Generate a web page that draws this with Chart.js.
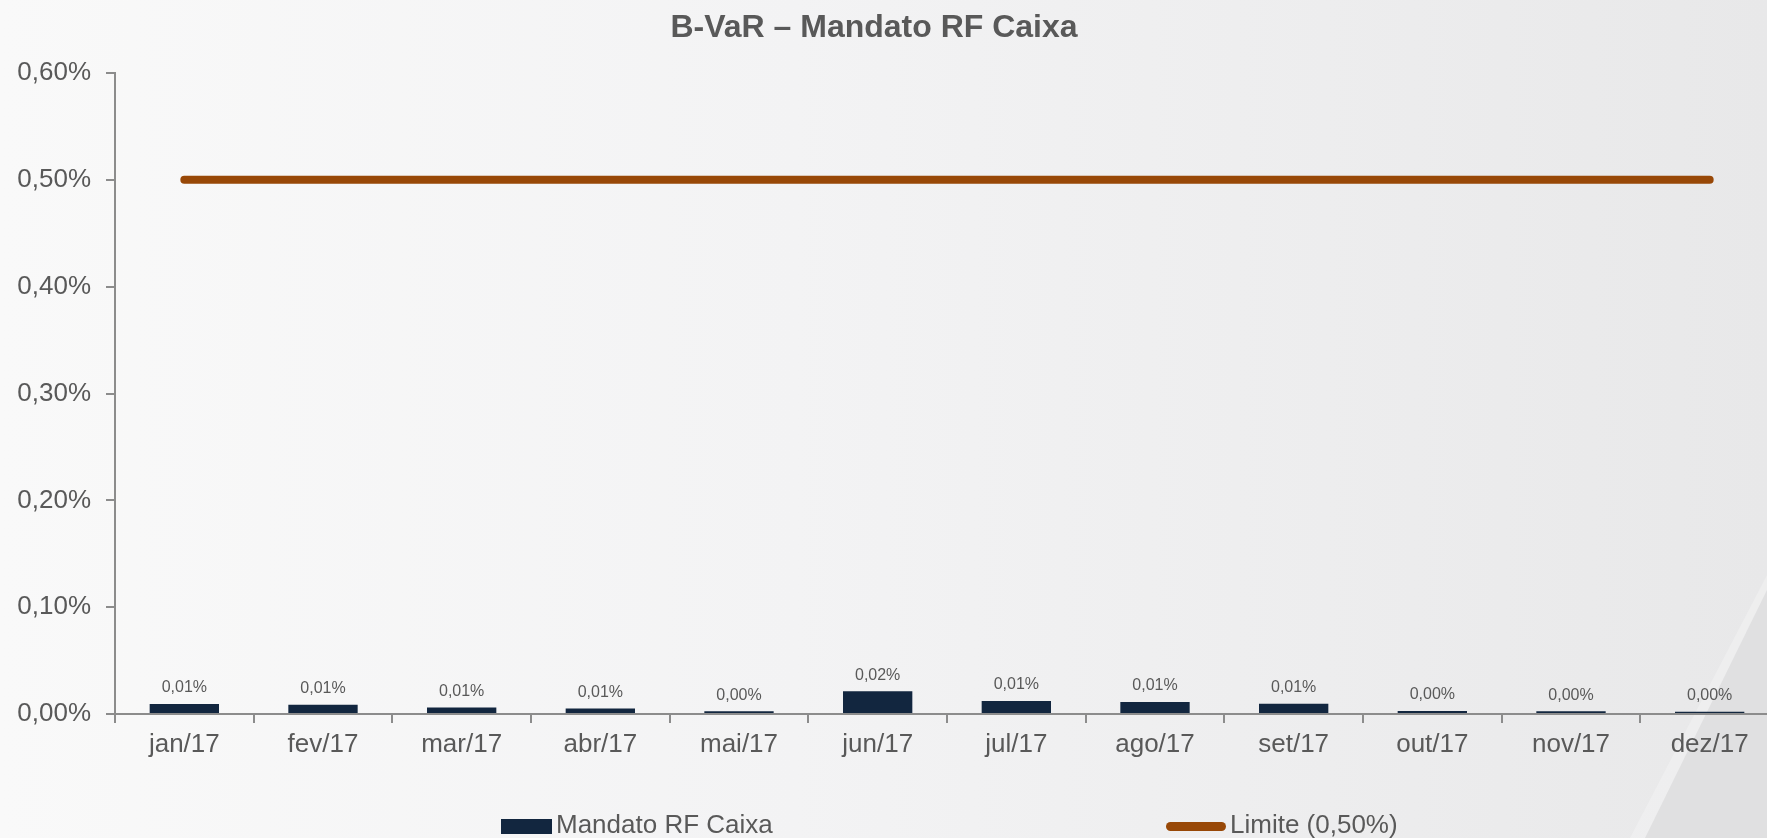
<!DOCTYPE html>
<html>
<head>
<meta charset="utf-8">
<script src="https://cdn.jsdelivr.net/npm/chart.js@4.4.1/dist/chart.umd.min.js"></script>
<style>
  html, body { margin: 0; padding: 0; }
  body {
    width: 1767px; height: 838px; overflow: hidden; position: relative;
    background: linear-gradient(90deg, #f9f9f9 0%, #f3f3f4 45%, #e8e8e9 100%);
    font-family: "Liberation Sans", Arial, sans-serif;
  }
  #swoosh {
    position: absolute; left: 0; top: 0; width: 1767px; height: 838px;
    background: #e0e0e1;
    clip-path: polygon(1767px 590px, 1767px 838px, 1645px 838px);
  }
  #swooshLight {
    position: absolute; left: 0; top: 0; width: 1767px; height: 838px;
    background: rgba(255,255,255,0.25);
    clip-path: polygon(1767px 575px, 1767px 590px, 1645px 838px, 1630px 838px);
  }
  #wrap { position: absolute; left: 0; top: 0; width: 1767px; height: 838px; overflow: hidden; }
  #title {
    position: absolute; top: 8px; left: 874px; transform: translateX(-50%);
    font-weight: bold; font-size: 32px; color: #595959; white-space: nowrap;
  }
  .leg { position: absolute; top: 809px; font-size: 26px; color: #595959; white-space: nowrap; line-height: 30px; }
  .leg span.box { display: inline-block; vertical-align: middle; margin-right: 4px; }
</style>
</head>
<body>
<div id="swoosh"></div>
<div id="swooshLight"></div>
<div id="wrap"><canvas id="grafik" width="1780" height="838"></canvas></div>
<div id="title">B-VaR – Mandato RF Caixa</div>
<div class="leg" style="left:501px"><span class="box" style="width:51px;height:15px;background:#12263f"></span>Mandato RF Caixa</div>
<div class="leg" style="left:1166px"><span class="box" style="width:60px;height:9px;border-radius:5px;background:#984807"></span>Limite (0,50%)</div>
<script>
// data
const bulan = ["jan/17", "fev/17", "mar/17", "abr/17", "mai/17", "jun/17",
  "jul/17", "ago/17", "set/17", "out/17", "nov/17", "dez/17"];
const mandatoRF = [0.0093, 0.0087, 0.0062, 0.0052, 0.0025, 0.0212,
  0.0121, 0.0112, 0.0097, 0.0028, 0.0025, 0.0022];
const limite = [0.5, 0.5, 0.5, 0.5, 0.5, 0.5, 0.5, 0.5, 0.5, 0.5, 0.5, 0.5];
const yTicks = [0, 0.1, 0.2, 0.3, 0.4, 0.5, 0.6];

const fmt = (v) => v.toFixed(2).replace(".", ",") + "%";
const abu = "#595959";

// label nilai di atas batang
const labelBatang = {
  id: "labelBatang",
  afterDatasetsDraw(chart) {
    const ctx = chart.ctx;
    const meta = chart.getDatasetMeta(0);
    ctx.save();
    ctx.font = "16px 'Liberation Sans', Arial, sans-serif";
    ctx.fillStyle = abu;
    ctx.textAlign = "center";
    ctx.textBaseline = "middle";
    meta.data.forEach((bar, i) => {
      ctx.fillText(fmt(mandatoRF[i]), bar.x, bar.y - 16);
    });
    ctx.restore();
  },
};

const ctx = document.getElementById("grafik").getContext("2d");
new Chart(ctx, {
  type: "bar",
  data: {
    labels: bulan,
    datasets: [
      {
        label: "Mandato RF Caixa",
        data: mandatoRF,
        backgroundColor: "#12263f",
        categoryPercentage: 1,
        barPercentage: 0.5,
        order: 2,
      },
      {
        type: "line",
        label: "Limite (0,50%)",
        data: limite,
        borderColor: "#984807",
        borderWidth: 8,
        borderCapStyle: "round",
        pointRadius: 0,
        fill: false,
        order: 1,
      },
    ],
  },
  options: {
    responsive: false,
    animation: false,
    devicePixelRatio: 1,
    layout: { padding: { top: 73, bottom: 74, left: 0, right: 1 } },
    plugins: {
      legend: { display: false },
      title: { display: false },
      tooltip: { enabled: false },
    },
    scales: {
      x: {
        offset: true,
        grid: { display: true, drawOnChartArea: false, drawTicks: true, tickLength: 9, offset: true, color: "#8c8c8c", lineWidth: 2 },
        border: { color: "#8c8c8c", width: 2 },
        ticks: { color: abu, font: { size: 26, family: "'Liberation Sans', Arial, sans-serif" }, padding: 6, maxRotation: 0 },
        afterFit(scale) { scale.height = 50; },
      },
      y: {
        min: 0,
        max: 0.6,
        afterBuildTicks(scale) { scale.ticks = yTicks.map((v) => ({ value: v })); },
        grid: { display: true, drawOnChartArea: false, drawTicks: true, tickLength: 9, color: "#8c8c8c", lineWidth: 2 },
        border: { color: "#8c8c8c", width: 2 },
        ticks: { color: abu, font: { size: 26, family: "'Liberation Sans', Arial, sans-serif" }, padding: 15, callback: (v) => fmt(v) },
        afterFit(scale) { scale.width = 115; },
      },
    },
  },
  plugins: [labelBatang],
});
</script>
</body>
</html>
